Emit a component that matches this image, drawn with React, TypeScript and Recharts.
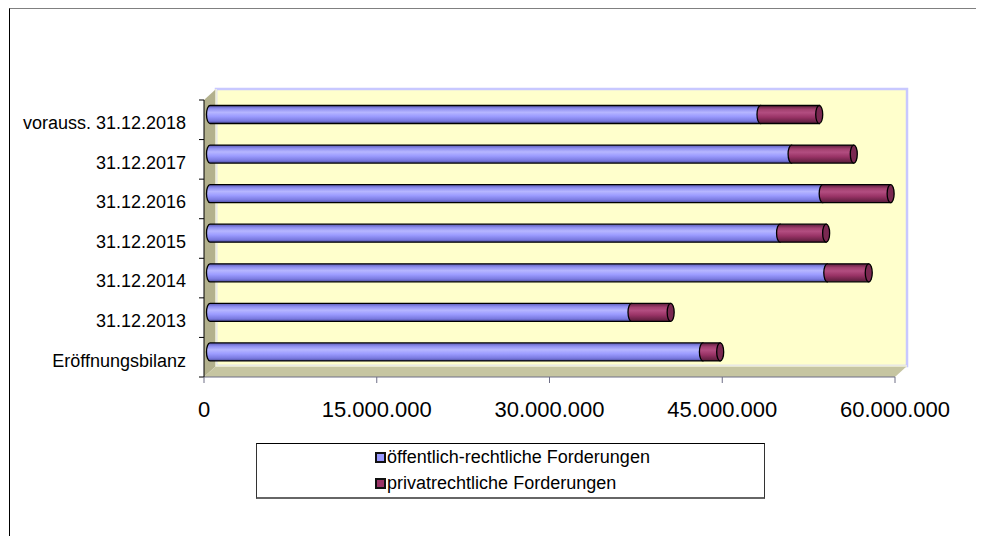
import React from 'react';
import { BarChart, Bar, XAxis, YAxis } from 'recharts';

const categories = [
  'vorauss. 31.12.2018',
  '31.12.2017',
  '31.12.2016',
  '31.12.2015',
  '31.12.2014',
  '31.12.2013',
  'Eröffnungsbilanz',
];
const oeffentlichRechtlich = [47800000, 50500000, 53200000, 49500000, 53600000, 36600000, 42800000];
const privatrechtlich = [5100000, 5400000, 5900000, 4000000, 3600000, 3400000, 1500000];
const xTicks = [0, 15000000, 30000000, 45000000, 60000000];

const SERIES = [
  { key: 'oeffentlich', name: 'öffentlich-rechtliche Forderungen', color: '#9999FF' },
  { key: 'privat', name: 'privatrechtliche Forderungen', color: '#993366' },
];

const data = categories.map((name, i) => ({
  name,
  oeffentlich: oeffentlichRechtlich[i],
  privat: privatrechtlich[i],
}));

const FONT = '"Liberation Sans", Arial, sans-serif';
const W = 968;
const H = 520;
const MARGIN = { top: 92, right: 81, bottom: 121, left: 8 };
const Y_AXIS_W = 188;
const X_AXIS_H = 30;
// front plane of the plot area
const PL = MARGIN.left + Y_AXIS_W;
const PR = W - MARGIN.right;
const PT = MARGIN.top;
const PB = H - MARGIN.bottom - X_AXIS_H;
// 3d depth of the walls
const DX = 12;
const DY = -11;
// bars sit halfway into the depth
const BX = DX / 2;
const BY = DY / 2;
const CAP_RX = 3.5;

const fmt = (v: number) => String(v).replace(/\B(?=(\d{3})+(?!\d))/g, '.');

function Walls() {
  const n = categories.length;
  const step = (PB - PT) / n;
  const ticks = Array.from({ length: n + 1 }, (_, i) => PT + i * step);
  return (
    <svg width={W} height={H} style={{ position: 'absolute', left: 0, top: 0 }}>
      <rect x={PL + DX} y={PT + DY} width={PR - PL} height={PB - PT} fill="#FFFFCC" stroke="#C8C8FF" strokeWidth={2.5} />
      <polygon
        points={`${PL},${PT} ${PL + DX},${PT + DY} ${PL + DX},${PB + DY} ${PL},${PB}`}
        fill="#B3B18D"
      />
      <polygon
        points={`${PL},${PB} ${PL + DX},${PB + DY} ${PR + DX},${PB + DY} ${PR},${PB}`}
        fill="#C6C5A1"
      />
      <polyline
        points={`${PL + DX},${PT + DY} ${PL + DX},${PB + DY} ${PR + DX},${PB + DY}`}
        fill="none"
        stroke="#F4F4DC"
        strokeWidth={1.5}
      />
      {ticks.map((t) => (
        <line key={t} x1={PL - 5} x2={PL} y1={t} y2={t} stroke="#000" />
      ))}
    </svg>
  );
}

function BlueCylinder(props: any) {
  const { x, y, width, height } = props;
  if (!width || width <= 0) return null;
  const sx = x + BX;
  const sy = y + BY;
  const ry = height / 2;
  const d = `M${sx},${sy} L${sx + width},${sy} L${sx + width},${sy + height} L${sx},${sy + height} A${CAP_RX},${ry} 0 0 1 ${sx},${sy} Z`;
  return <path d={d} fill="url(#gradBlue)" stroke="#000" strokeWidth={1.3} />;
}

function RedCylinder(props: any) {
  const { x, y, width, height } = props;
  if (!width || width <= 0) return null;
  const sx = x + BX;
  const sy = y + BY;
  const ex = sx + width;
  const ry = height / 2;
  const d = `M${sx},${sy} L${ex},${sy} L${ex},${sy + height} L${sx},${sy + height} A${CAP_RX},${ry} 0 0 1 ${sx},${sy} Z`;
  return (
    <g>
      <path d={d} fill="url(#gradRed)" stroke="#000" strokeWidth={1.3} />
      <ellipse cx={ex} cy={sy + ry} rx={CAP_RX} ry={ry} fill="#7A2851" stroke="#000" strokeWidth={1.3} />
    </g>
  );
}

function LegendBox() {
  return (
    <div
      style={{
        position: 'absolute',
        left: 248,
        top: 435,
        width: 507,
        height: 53,
        borderTop: '1px solid #000',
        borderLeft: '1px solid #333',
        borderRight: '1px solid #333',
        borderBottom: '2px solid #666',
        display: 'flex',
        justifyContent: 'center',
        fontFamily: FONT,
        fontSize: 18,
        color: '#000',
      }}
    >
      <div style={{ paddingTop: 0, paddingLeft: 4 }}>
        {SERIES.map((s) => (
          <div key={s.key} style={{ display: 'flex', alignItems: 'center', height: 26 }}>
            <span
              style={{
                display: 'inline-block',
                width: 7,
                height: 7,
                background: s.color,
                border: '2px solid #111',
                marginRight: 1,
              }}
            />
            <span>{s.name}</span>
          </div>
        ))}
      </div>
    </div>
  );
}

export default function App() {
  return (
    <div style={{ position: 'relative', width: 976, height: 528, overflow: 'hidden' }}>
      <style>{'html{overflow:hidden}'}</style>
      <div
        style={{
          position: 'absolute',
          left: 1,
          top: 0,
          width: 1000,
          height: 560,
          borderTop: '1px solid #808080',
          borderLeft: '1px solid #000',
        }}
      />
      <Walls />
      <div style={{ position: 'absolute', left: 0, top: 0 }}>
        <BarChart
          width={W}
          height={H}
          data={data}
          layout="vertical"
          margin={MARGIN}
          barSize={18}
          barCategoryGap={0}
        >
          <defs>
            <linearGradient id="gradBlue" x1="0" y1="0" x2="0" y2="1">
              <stop offset="0%" stopColor="#5A5AB5" />
              <stop offset="18%" stopColor="#9090F0" />
              <stop offset="38%" stopColor="#B6B6FF" />
              <stop offset="60%" stopColor="#9C9CFF" />
              <stop offset="85%" stopColor="#7A7AE0" />
              <stop offset="100%" stopColor="#4C4C9E" />
            </linearGradient>
            <linearGradient id="gradRed" x1="0" y1="0" x2="0" y2="1">
              <stop offset="0%" stopColor="#5A1D3C" />
              <stop offset="22%" stopColor="#A2406F" />
              <stop offset="40%" stopColor="#B24D80" />
              <stop offset="65%" stopColor="#993366" />
              <stop offset="100%" stopColor="#571B39" />
            </linearGradient>
          </defs>
          <XAxis
            type="number"
            domain={[0, 60000000]}
            ticks={xTicks}
            tickFormatter={fmt}
            height={X_AXIS_H}
            stroke="#6E6E86"
            tickSize={6}
            tickMargin={18}
            tick={{ fill: '#000', fontSize: 22, fontFamily: FONT }}
            interval={0}
          />
          <YAxis
            type="category"
            dataKey="name"
            width={Y_AXIS_W}
            tickLine={false}
            axisLine={{ stroke: '#000' }}
            tickMargin={12}
            tick={{ fill: '#000', fontSize: 18, fontFamily: FONT, dy: 3 }}
            interval={0}
          />
          <Bar
            dataKey="oeffentlich"
            name={SERIES[0].name}
            stackId="a"
            fill={SERIES[0].color}
            shape={<BlueCylinder />}
            isAnimationActive={false}
          />
          <Bar
            dataKey="privat"
            name={SERIES[1].name}
            stackId="a"
            fill={SERIES[1].color}
            shape={<RedCylinder />}
            isAnimationActive={false}
          />
        </BarChart>
      </div>
      <LegendBox />
    </div>
  );
}
